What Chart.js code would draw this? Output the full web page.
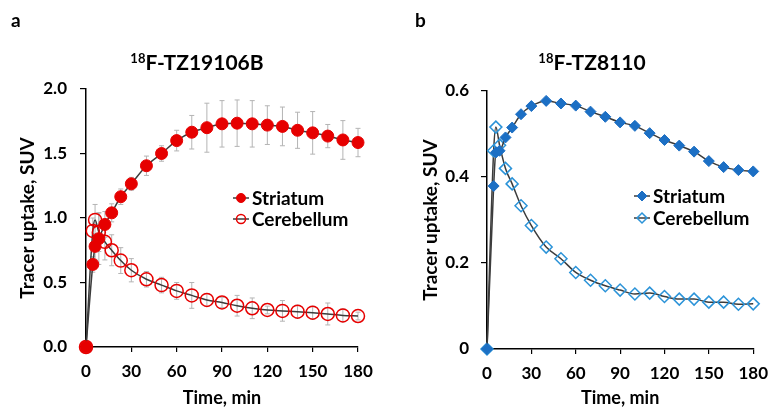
<!DOCTYPE html>
<html>
<head>
<meta charset="utf-8">
<script src="https://cdn.jsdelivr.net/npm/chart.js@4.4.1/dist/chart.umd.min.js"></script>
<style>
  body { margin: 0; width: 777px; height: 409px; background: #fff; position: relative; overflow: hidden;
         font-family: Lato, "Open Sans", sans-serif; color: #000; }
  .panel { position: absolute; top: 0; height: 409px; }
  #panelA { left: 0; width: 390px; }
  #panelB { left: 390px; width: 387px; }
  .letter { position: absolute; top: 8px; font-weight: bold; font-size: 19px; }
  .title { position: absolute; top: 49px; width: 240px; text-align: center; font-weight: bold; font-size: 21px; }
  .title sup { font-size: 13px; vertical-align: 7px; }
</style>
</head>
<body>
<div class="panel" id="panelA">
  <div class="letter" style="left:11px">a</div>
  <div class="title" style="left:77px"><sup>18</sup>F-TZ19106B</div>
  <canvas id="chartA" width="390" height="409"></canvas>
</div>
<div class="panel" id="panelB">
  <div class="letter" style="left:25px">b</div>
  <div class="title" style="left:82px"><sup>18</sup>F-TZ8110</div>
  <canvas id="chartB" width="387" height="409"></canvas>
</div>
<script>
// time frames (min), shared by both scans
const times = [0, 4.5, 6, 8.5, 12.5, 17, 23, 30, 40, 50, 60, 70, 80, 90, 100, 110, 120, 130, 140, 150, 160, 170, 180];

// panel a: 18F-TZ19106B (mean and SD)
const striatumA = [0, 0.64, 0.78, 0.84, 0.95, 1.04, 1.165, 1.265, 1.405, 1.50, 1.60, 1.665, 1.70, 1.73, 1.735, 1.73, 1.72, 1.71, 1.68, 1.66, 1.635, 1.605, 1.585];
const striatumErrA = [0, 0.06, 0.1, 0.2, 0.1, 0.07, 0.06, 0.05, 0.075, 0.06, 0.08, 0.13, 0.19, 0.18, 0.18, 0.18, 0.15, 0.15, 0.14, 0.165, 0.09, 0.15, 0.11];
const cerebellumA = [0, 0.90, 0.985, 0.89, 0.815, 0.75, 0.67, 0.595, 0.525, 0.48, 0.435, 0.40, 0.365, 0.345, 0.32, 0.30, 0.287, 0.28, 0.274, 0.266, 0.256, 0.245, 0.24];
const cerebellumErrA = [0, 0.1, 0.12, 0.15, 0.14, 0.12, 0.1, 0.09, 0.06, 0.06, 0.065, 0.1, 0.05, 0.04, 0.08, 0.08, 0.03, 0.08, 0.05, 0.05, 0.085, 0.05, 0.03];

// panel b: 18F-TZ8110
const striatumB = [0, 0.379, 0.457, 0.461, 0.492, 0.515, 0.546, 0.565, 0.577, 0.571, 0.566, 0.552, 0.540, 0.527, 0.519, 0.502, 0.486, 0.473, 0.459, 0.437, 0.423, 0.416, 0.413];
const cerebellumB = [0, 0.461, 0.516, 0.474, 0.42, 0.384, 0.333, 0.287, 0.237, 0.21, 0.178, 0.16, 0.147, 0.137, 0.128, 0.13, 0.122, 0.116, 0.116, 0.109, 0.109, 0.104, 0.105];

// tick labels
const xTicks = [0, 30, 60, 90, 120, 150, 180];
const yTicksA = ['0.0', '0.5', '1.0', '1.5', '2.0'];
const yTicksB = ['0', '0.2', '0.4', '0.6'];

const FONT = 'Lato, "Open Sans", sans-serif';
const LINE = '#3c3c3c';

function pts(vals) {
  return vals.map((v, i) => ({ x: times[i], y: v }));
}

function drawMarker(ctx, ds, x, y, r) {
  ctx.save();
  ctx.lineWidth = ds.pointBorderWidth;
  ctx.strokeStyle = ds.pointBorderColor;
  ctx.fillStyle = ds.pointBackgroundColor;
  ctx.beginPath();
  if (ds.pointStyle === 'rectRot') {
    ctx.moveTo(x, y - r); ctx.lineTo(x + r, y); ctx.lineTo(x, y + r); ctx.lineTo(x - r, y); ctx.closePath();
  } else {
    ctx.arc(x, y, r, 0, Math.PI * 2);
  }
  ctx.fill();
  ctx.stroke();
  ctx.restore();
}

// SD whiskers under the markers
const errorBars = {
  id: 'errorBars',
  beforeDatasetsDraw(chart) {
    const ctx = chart.ctx;
    const xs = chart.scales.x, ys = chart.scales.y;
    chart.data.datasets.forEach(ds => {
      if (!ds.errors) return;
      ctx.save();
      ctx.strokeStyle = '#b4b4b4';
      ctx.lineWidth = 1;
      ds.data.forEach((p, i) => {
        const e = ds.errors[i];
        if (!e) return;
        const x = xs.getPixelForValue(p.x);
        const y1 = ys.getPixelForValue(p.y + e);
        const y2 = ys.getPixelForValue(p.y - e);
        ctx.beginPath();
        ctx.moveTo(x, y1); ctx.lineTo(x, y2);
        ctx.moveTo(x - 2.5, y1); ctx.lineTo(x + 2.5, y1);
        ctx.moveTo(x - 2.5, y2); ctx.lineTo(x + 2.5, y2);
        ctx.stroke();
      });
      ctx.restore();
    });
  }
};

// Excel style legend: short line with the marker on it
const boxLegend = {
  id: 'boxLegend',
  afterDraw(chart, args, opts) {
    const ctx = chart.ctx;
    chart.data.datasets.forEach((ds, i) => {
      const x = opts.x, y = opts.y + i * opts.gap;
      ctx.save();
      ctx.strokeStyle = LINE;
      ctx.lineWidth = 1.5;
      ctx.beginPath();
      ctx.moveTo(x - 8, y); ctx.lineTo(x + 8, y);
      ctx.stroke();
      ctx.restore();
      drawMarker(ctx, ds, x, y, opts.r);
      ctx.save();
      ctx.fillStyle = '#000';
      ctx.font = 'bold 19px ' + FONT;
      ctx.textBaseline = 'middle';
      ctx.fillText(ds.label, x + 11, y + 1);
      ctx.restore();
    });
  }
};

function makePanel(id, datasets, yMax, yStep, yLabels, box) {
  const c = document.getElementById(id);
  const H = c.height;
  return new Chart(c, {
    type: 'line',
    data: { datasets: datasets },
    plugins: [errorBars, boxLegend],
    options: {
      responsive: false,
      animation: false,
      devicePixelRatio: 1,
      layout: { padding: { left: box.padL, top: box.top, right: c.width - box.right, bottom: 0 } },
      plugins: {
        legend: { display: false },
        tooltip: { enabled: false },
        boxLegend: box.legend
      },
      scales: {
        x: {
          type: 'linear', min: 0, max: 180,
          afterBuildTicks: ax => { ax.ticks = xTicks.map(v => ({ value: v })); },
          afterFit: ax => { ax.height = H - box.bottom; },
          grid: { drawOnChartArea: false, drawTicks: true, tickLength: 5, color: '#000', lineWidth: 1.2 },
          border: { display: true, color: '#000', width: 1.5 },
          ticks: { color: '#000', padding: 9, maxRotation: 0, autoSkip: false,
                   font: { family: FONT, size: 17, weight: 'bold' } },
          title: { display: true, text: 'Time, min', color: '#000', padding: { top: 2, bottom: 0 },
                   font: { family: FONT, size: 18, weight: 'bold' } }
        },
        y: {
          min: 0, max: yMax,
          afterBuildTicks: ax => { ax.ticks = yLabels.map((t, i) => ({ value: i * yStep })); },
          afterFit: ax => { ax.width = box.left - box.padL; },
          grid: { drawOnChartArea: false, drawTicks: true, tickLength: 6, color: '#000', lineWidth: 1.2 },
          border: { display: true, color: '#000', width: 1.5 },
          ticks: { color: '#000', padding: box.tickPad,
                   callback: (v, i) => yLabels[i],
                   font: { family: FONT, size: 17, weight: 'bold' } },
          title: { display: true, text: 'Tracer uptake, SUV', color: '#000', padding: { top: 2, bottom: 2 },
                   font: { family: FONT, size: 19, weight: 'bold' } }
        }
      }
    }
  });
}

function series(label, vals, style) {
  return Object.assign({
    label: label,
    data: pts(vals),
    borderColor: LINE,
    borderWidth: 1.5,
    cubicInterpolationMode: 'monotone',
    clip: false
  }, style);
}

const red = '#e60000';
makePanel('chartA', [
  series('Striatum', striatumA, { errors: striatumErrA, pointStyle: 'circle', pointRadius: 6,
    pointBackgroundColor: red, pointBorderColor: red, pointBorderWidth: 1 }),
  series('Cerebellum', cerebellumA, { errors: cerebellumErrA, pointStyle: 'circle', pointRadius: 6.5,
    pointBackgroundColor: 'rgba(0,0,0,0)', pointBorderColor: red, pointBorderWidth: 1.5 })
], 2, 0.5, yTicksA, { padL: 14, left: 86, right: 358, top: 89, bottom: 347, tickPad: 13,
  legend: { x: 241, y: 198, gap: 21, r: 4.5 } });

const blue = '#1c6fc4';
const lightBlue = '#2b93d8';
makePanel('chartB', [
  series('Striatum', striatumB, { pointStyle: 'rectRot', pointRadius: 5.5,
    pointBackgroundColor: blue, pointBorderColor: blue, pointBorderWidth: 1 }),
  series('Cerebellum', cerebellumB, { pointStyle: 'rectRot', pointRadius: 6,
    pointBackgroundColor: 'rgba(0,0,0,0)', pointBorderColor: lightBlue, pointBorderWidth: 1.5 })
], 0.6, 0.2, yTicksB, { padL: 27, left: 97, right: 371, top: 91, bottom: 349, tickPad: 12,
  legend: { x: 252, y: 196, gap: 22, r: 5 } });
</script>
</body>
</html>
